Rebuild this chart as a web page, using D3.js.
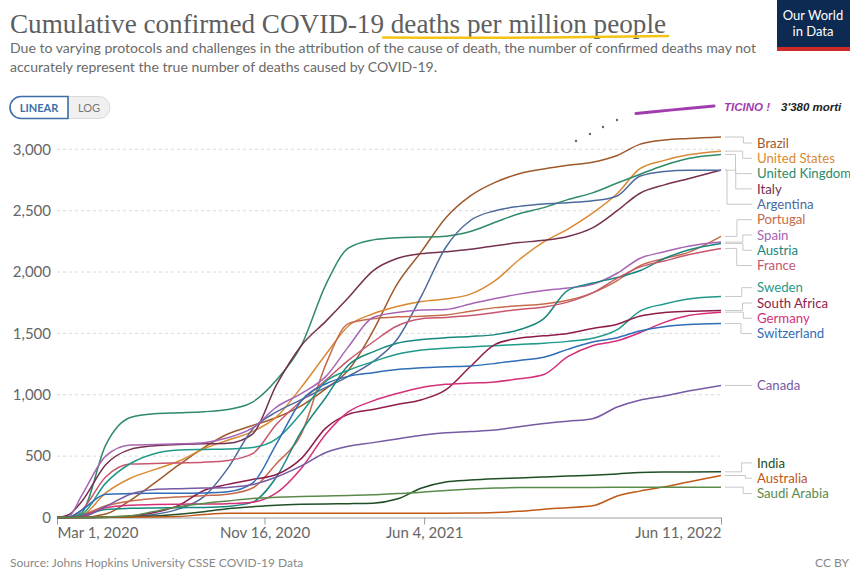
<!DOCTYPE html>
<html>
  <head>
    <title>COVID-19 deaths per million</title>
    <meta charset="utf-8" />
    <script src="https://cdnjs.cloudflare.com/ajax/libs/d3/7.6.1/d3.min.js"></script>
    <style>
      body { margin: 0; background: #fff; }
      svg { display: block; font-family: Lato, "Noto Sans", sans-serif; }
    </style>
  </head>
  <body>
    <svg width="850" height="570"></svg>
  </body>

  <script>
    // sample dates (first of month, plus mid March 2020 and the last day shown)
    const dates = ["2020-03-01","2020-03-15","2020-04-01","2020-05-01","2020-06-01","2020-07-01","2020-08-01",
      "2020-09-01","2020-10-01","2020-11-01","2020-12-01","2021-01-01","2021-02-01","2021-03-01","2021-04-01",
      "2021-05-01","2021-06-01","2021-07-01","2021-08-01","2021-09-01","2021-10-01","2021-11-01","2021-12-01",
      "2022-01-01","2022-02-01","2022-03-01","2022-04-01","2022-05-01","2022-06-11"];

    const countries = ["Brazil","United States","United Kingdom","Italy","Argentina","Portugal","Spain","Austria",
      "France","Sweden","South Africa","Germany","Switzerland","Canada","India","Australia","Saudi Arabia"];

    const brazil = [0,0,1,28,140,280,430,570,680,750,815,910,1050,1200,1520,1900,2170,2440,2620,2730,2800,2840,2870,2895,2950,3040,3075,3088,3100];
    const unitedStates = [0,0,15,200,320,390,460,560,630,700,820,1060,1330,1560,1660,1720,1760,1780,1820,1930,2100,2245,2350,2480,2640,2840,2910,2955,2985];
    const unitedKingdom = [0,0,40,590,815,845,853,862,880,940,1120,1400,1900,2195,2262,2280,2285,2292,2330,2405,2475,2525,2590,2645,2725,2795,2870,2925,2958];
    const italy = [0,20,130,430,555,585,595,600,605,680,1080,1400,1600,1790,2010,2110,2150,2165,2185,2215,2240,2258,2290,2360,2500,2640,2710,2760,2830];
    const argentina = [0,0,0,5,10,25,70,170,400,720,860,960,1060,1150,1270,1450,1810,2200,2420,2500,2535,2555,2565,2580,2620,2780,2820,2830,2830];
    const portugal = [0,0,20,95,135,155,168,178,190,240,440,680,1250,1580,1620,1635,1640,1650,1680,1710,1725,1740,1770,1830,1930,2050,2110,2160,2290];
    const spain = [0,5,180,500,590,595,600,610,650,730,900,1010,1150,1390,1630,1670,1690,1695,1740,1785,1820,1850,1870,1900,1990,2110,2165,2210,2244];
    const austria = [0,0,15,65,75,78,80,82,90,125,330,700,980,1240,1350,1420,1450,1465,1475,1490,1530,1620,1850,1910,1955,2010,2110,2180,2233];
    const france = [0,1,60,330,435,440,445,450,465,520,760,950,1120,1280,1430,1560,1620,1630,1645,1670,1695,1715,1755,1830,1950,2040,2090,2140,2192];
    const sweden = [0,0,25,280,440,520,550,555,558,570,640,850,1110,1200,1270,1330,1365,1380,1390,1400,1410,1420,1435,1460,1530,1680,1740,1780,1801];
    const southAfrica = [0,0,0,2,12,40,100,220,270,310,350,480,730,840,880,920,960,1040,1230,1410,1460,1480,1500,1540,1575,1640,1670,1680,1687];
    const germany = [0,0,10,80,100,105,108,110,113,125,200,400,680,860,950,1010,1060,1085,1095,1105,1130,1165,1310,1400,1440,1505,1590,1645,1673];
    const switzerland = [0,2,60,190,195,197,198,200,210,280,600,950,1090,1150,1180,1205,1220,1228,1235,1255,1280,1305,1370,1430,1465,1520,1555,1572,1581];
    const canada = [0,0,5,90,190,228,235,240,245,268,330,420,530,580,610,640,670,690,700,712,740,765,785,805,900,955,990,1030,1076];
    const india = [0,0,0,1,4,12,27,47,72,88,100,107,111,113,117,150,240,290,305,315,322,330,338,345,355,366,370,371,372];
    const australia = [0,0,1,4,4,4,8,25,35,35,35,35,35,35,35,35,35,35,36,40,50,68,80,95,175,215,250,290,342];
    const saudiArabia = [0,0,1,5,14,50,90,115,135,155,165,172,176,180,185,195,205,220,232,240,244,245,245,245,246,247,247,247,247];

    const yTicks = [0, 500, 1000, 1500, 2000, 2500, 3000];
    const xTicks = ["2020-03-01", "2020-11-16", "2021-06-04", "2022-06-11"];

    const seriesValues = [brazil, unitedStates, unitedKingdom, italy, argentina, portugal, spain, austria,
      france, sweden, southAfrica, germany, switzerland, canada, india, australia, saudiArabia];

    const colors = ["#9f5a2c", "#d98a33", "#2f8a68", "#76304f", "#4c6a9c", "#c66a4c", "#a665b4", "#17877f",
      "#c8566d", "#1f9a89", "#8e1c4a", "#d4307a", "#2f6db6", "#765aa3", "#1f4f25", "#c05917", "#5a8a4a"];

    chart();

    function chart() {
      const svg = d3.select("svg");
      const parse = d3.timeParse("%Y-%m-%d");
      const dateVals = dates.map(parse);

      const xScale = d3.scaleTime()
        .domain([parse("2020-03-01"), parse("2022-06-11")])
        .range([57, 721]);
      const yScale = d3.scaleLinear().domain([0, 3000]).range([517.5, 149.3]);

      // title + subtitle
      svg.append("text")
        .attr("x", 10).attr("y", 33)
        .attr("textLength", 656).attr("lengthAdjust", "spacingAndGlyphs")
        .style("font-family", '"Liberation Serif", "DejaVu Serif", serif')
        .style("font-size", "28px")
        .style("fill", "#5e5e5e")
        .text("Cumulative confirmed COVID-19 deaths per million people");

      svg.append("path")
        .attr("d", "M383,37.5 Q520,38.5 668,36")
        .style("fill", "none")
        .style("stroke", "#f3c414")
        .style("stroke-width", 2.6)
        .style("stroke-linecap", "round");

      svg.append("text")
        .attr("x", 10).attr("y", 53)
        .attr("textLength", 746).attr("lengthAdjust", "spacingAndGlyphs")
        .style("font-size", "14px").style("fill", "#6a6a6a")
        .text("Due to varying protocols and challenges in the attribution of the cause of death, the number of confirmed deaths may not");
      svg.append("text")
        .attr("x", 10).attr("y", 72)
        .attr("textLength", 427).attr("lengthAdjust", "spacingAndGlyphs")
        .style("font-size", "14px").style("fill", "#6a6a6a")
        .text("accurately represent the true number of deaths caused by COVID-19.");

      // OWID logo
      const logo = svg.append("g");
      logo.append("rect").attr("x", 777).attr("y", 0).attr("width", 73).attr("height", 51).style("fill", "#0d2a52");
      logo.append("rect").attr("x", 777).attr("y", 47).attr("width", 73).attr("height", 4).style("fill", "#cf2a2a");
      logo.append("text").attr("x", 813).attr("y", 20).attr("text-anchor", "middle")
        .style("font-size", "13px").style("fill", "#fff").text("Our World");
      logo.append("text").attr("x", 813).attr("y", 36).attr("text-anchor", "middle")
        .style("font-size", "13px").style("fill", "#fff").text("in Data");

      // LINEAR / LOG toggle
      const toggle = svg.append("g");
      toggle.append("path")
        .attr("d", "M68,96.5 H99 A11 11 0 0 1 99,118.5 H68 Z")
        .style("fill", "#f0f0f0").style("stroke", "#dadada");
      toggle.append("path")
        .attr("d", "M68,96.5 H21 A11 11 0 0 0 21,118.5 H68 Z")
        .style("fill", "#fff").style("stroke", "#3d6ea8").style("stroke-width", 1.6);
      toggle.append("text").attr("x", 39).attr("y", 111.5).attr("text-anchor", "middle")
        .style("font-size", "11px").style("font-weight", "bold").style("fill", "#3d6ea8").text("LINEAR");
      toggle.append("text").attr("x", 89).attr("y", 111.5).attr("text-anchor", "middle")
        .style("font-size", "11px").style("fill", "#777").text("LOG");

      // grid + y labels
      svg.append("g")
        .selectAll("line")
        .data(yTicks.filter((d) => d > 0))
        .enter()
        .append("line")
        .attr("x1", 57).attr("x2", 721)
        .attr("y1", (d) => yScale(d)).attr("y2", (d) => yScale(d))
        .style("stroke", "#d9d9d9")
        .style("stroke-dasharray", "3,3");

      svg.append("g")
        .selectAll("text")
        .data(yTicks)
        .enter()
        .append("text")
        .attr("x", 51)
        .attr("y", (d) => yScale(d))
        .attr("dy", "0.35em")
        .attr("text-anchor", "end")
        .style("font-size", "15px")
        .style("fill", "#666")
        .text((d) => d3.format(",")(d));

      // x axis
      const xAxis = d3.axisBottom(xScale)
        .tickValues(xTicks.map(parse))
        .tickSize(7)
        .tickSizeOuter(0)
        .tickFormat(d3.timeFormat("%b %-d, %Y"));
      const gx = svg.append("g")
        .attr("class", "x axis")
        .attr("transform", "translate(0,517.5)")
        .call(xAxis);
      gx.select(".domain").style("stroke", "#9a9a9a");
      gx.selectAll(".tick line").style("stroke", "#9a9a9a");
      gx.selectAll(".tick text")
        .attr("y", 10)
        .style("font-family", "Lato, sans-serif")
        .style("font-size", "15px")
        .style("fill", "#666")
        .attr("text-anchor", (d, i) => (i === 0 ? "start" : i === xTicks.length - 1 ? "end" : "middle"));

      // lines
      const line = d3.line()
        .x((d, i) => xScale(dateVals[i]))
        .y((d) => yScale(d))
        .curve(d3.curveMonotoneX);

      svg.append("g")
        .selectAll("path")
        .data(seriesValues)
        .enter()
        .append("path")
        .attr("d", (d) => line(d))
        .style("fill", "none")
        .style("stroke", (d, i) => colors[i])
        .style("stroke-width", 1.5);

      // end labels with collision avoidance
      const gap = 15.3;
      const labels = countries.map((name, i) => ({
        name: name,
        color: colors[i],
        target: yScale(seriesValues[i][seriesValues[i].length - 1])
      }));
      const ordered = labels.slice().sort((a, b) => a.target - b.target);
      let groups = ordered.map((l) => ({ items: [l], center: l.target }));
      let merged = true;
      while (merged) {
        merged = false;
        for (let i = 0; i < groups.length - 1; i++) {
          const a = groups[i], b = groups[i + 1];
          const aBottom = a.center + ((a.items.length - 1) * gap) / 2;
          const bTop = b.center - ((b.items.length - 1) * gap) / 2;
          if (bTop - aBottom < gap) {
            const items = a.items.concat(b.items);
            groups.splice(i, 2, { items: items, center: d3.mean(items, (d) => d.target) });
            merged = true;
            break;
          }
        }
      }
      groups.forEach((g) => {
        const top = g.center - ((g.items.length - 1) * gap) / 2;
        g.items.forEach((l, k) => (l.y = top + k * gap));
      });
      // keep the legend clear of the note above the top line, then restack downwards
      const minTop = ordered[0].target + 6;
      ordered.forEach((l, k) => {
        const floor = k === 0 ? minTop : ordered[k - 1].y + gap;
        if (l.y < floor) l.y = floor;
      });

      const xEnd = xScale(parse("2022-06-11"));
      const lab = svg.append("g");
      lab.selectAll("path")
        .data(labels)
        .enter()
        .append("path")
        .attr("d", (d) => {
          const dy = d.y - d.target;
          if (Math.abs(dy) < 1.5) return `M${xEnd + 4},${d.target} H752`;
          const xm = 747 - Math.min(20, Math.abs(dy) * 0.6);
          return `M${xEnd + 4},${d.target} H${xm} V${d.y} H752`;
        })
        .style("fill", "none")
        .style("stroke", "#c8c8c8")
        .style("stroke-width", 1);
      lab.selectAll("text")
        .data(labels)
        .enter()
        .append("text")
        .attr("x", 757)
        .attr("y", (d) => d.y)
        .attr("dy", "0.35em")
        .style("font-size", "13.2px")
        .style("fill", (d) => d.color)
        .text((d) => d.name);

      // hand-made Ticino note
      const note = svg.append("g");
      note.selectAll("circle")
        .data([[576, 141], [590, 134], [603, 127], [617, 120]])
        .enter()
        .append("circle")
        .attr("cx", (d) => d[0]).attr("cy", (d) => d[1]).attr("r", 1.2)
        .style("fill", "#666");
      note.append("path")
        .attr("d", "M636,113.5 Q670,110 714,106")
        .style("fill", "none").style("stroke", "#a23db0").style("stroke-width", 3)
        .style("stroke-linecap", "round");
      note.append("text").attr("x", 724).attr("y", 111)
        .style("font-family", '"Liberation Sans", Arial, sans-serif')
        .style("font-size", "11.5px").style("font-style", "italic").style("font-weight", "bold")
        .style("fill", "#a23db0").text("TICINO !");
      note.append("text").attr("x", 781).attr("y", 111)
        .style("font-family", '"Liberation Sans", Arial, sans-serif')
        .style("font-size", "11.5px").style("font-style", "italic").style("font-weight", "bold")
        .style("fill", "#222").text("3'380 morti");

      // footer
      svg.append("text").attr("x", 10).attr("y", 567)
        .style("font-size", "12px").style("fill", "#888")
        .text("Source: Johns Hopkins University CSSE COVID-19 Data");
      svg.append("text").attr("x", 849).attr("y", 567).attr("text-anchor", "end")
        .style("font-size", "12px").style("fill", "#888")
        .text("CC BY");
    }
  </script>
</html>
